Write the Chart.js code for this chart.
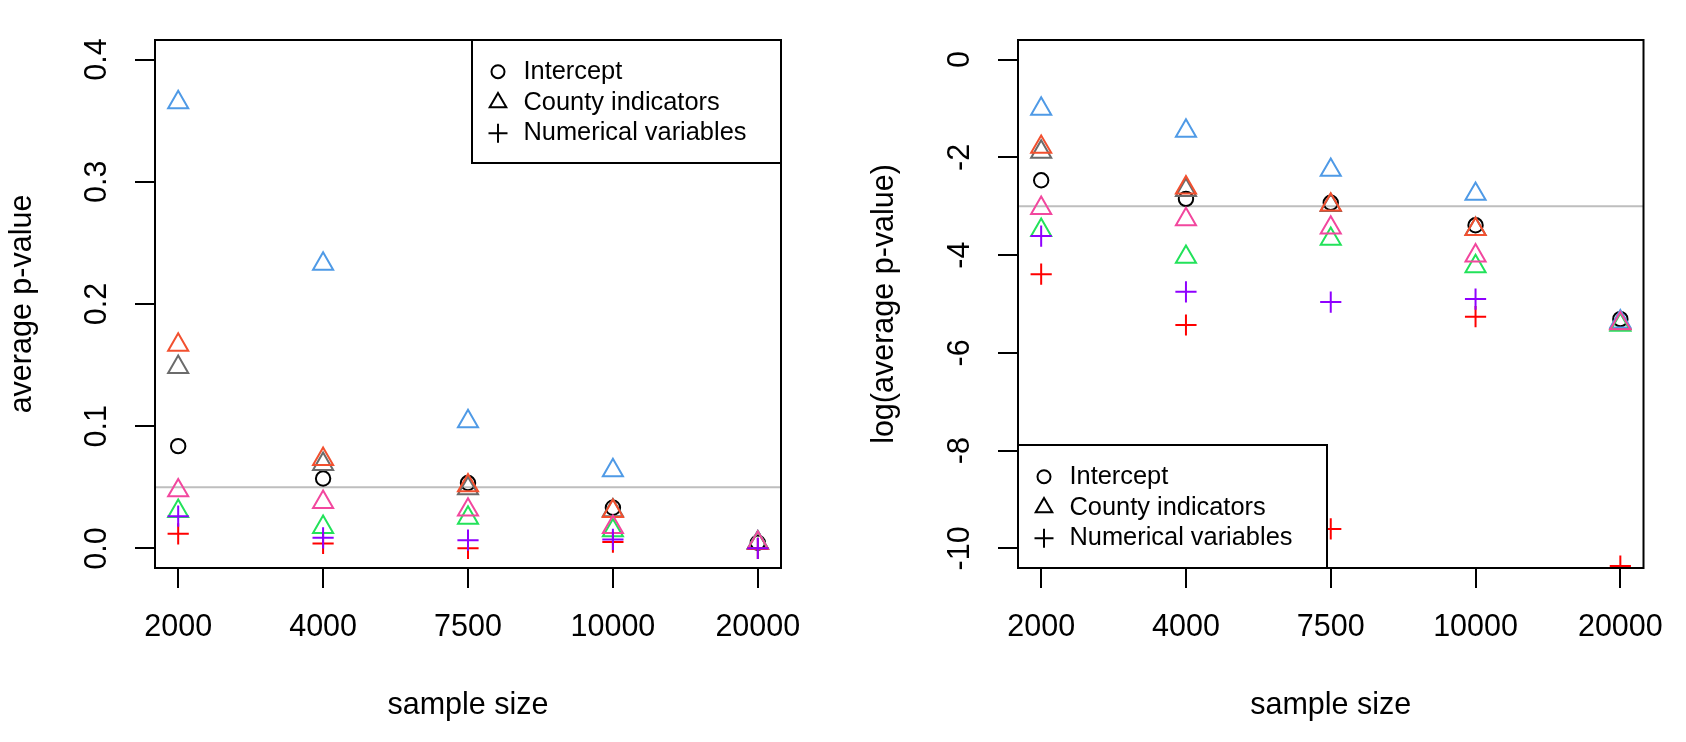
<!DOCTYPE html>
<html>
<head>
<meta charset="utf-8">
<title>average p-value by sample size</title>
<script src="https://cdn.jsdelivr.net/npm/chart.js@4.4.1/dist/chart.umd.min.js"></script>
<style>
  html, body { margin: 0; padding: 0; background: #fff; }
  #wrap { position: relative; width: 1686px; height: 742px; }
  canvas { position: absolute; top: 0; }
  #leftChart { left: 0; }
  #rightChart { left: 843px; }
</style>
</head>
<body>
<div id="wrap">
  <canvas id="leftChart" width="843" height="742"></canvas>
  <canvas id="rightChart" width="843" height="742"></canvas>
</div>
<script>
// x axis categories (drawn at positions 1..5)
const sampleSizes = ['2000', '4000', '7500', '10000', '20000'];

// left panel: average p-value
const interceptAvg  = [0.0837, 0.0572, 0.0535, 0.0333, 0.0047];
const countyGrayAvg  = [0.1483, 0.0690, 0.0490, 0.0310, 0.0045];
const countyRedAvg   = [0.1665, 0.0730, 0.0515, 0.0305, 0.0046];
const countyBlueAvg  = [0.3650, 0.2328, 0.1040, 0.0638, 0.0047];
const countyGreenAvg = [0.0305, 0.0174, 0.0250, 0.0147, 0.0044];
const countyPinkAvg  = [0.0474, 0.0379, 0.0316, 0.0174, 0.0045];
const numPurpleAvg   = [0.0264, 0.0087, 0.0068, 0.0074, 0.0001];
const numRedAvg      = [0.0120, 0.0041, 0.0001, 0.0052, 0.0000];

// right panel: log(average p-value)
const interceptLog   = [-2.47, -2.85, -2.93, -3.39, -5.31];
const countyGrayLog  = [-1.89, -2.67, -2.98, -3.47, -5.40];
const countyRedLog   = [-1.79, -2.62, -2.97, -3.47, -5.38];
const countyBlueLog  = [-1.01, -1.46, -2.26, -2.75, -5.36];
const countyGreenLog = [-3.49, -4.04, -3.67, -4.23, -5.43];
const countyPinkLog  = [-3.04, -3.27, -3.44, -4.01, -5.40];
const numPurpleLog   = [-3.61, -4.75, -4.96, -4.90, -11.2];
const numRedLog      = [-4.39, -5.43, -9.60, -5.26, -10.36];

const leftTicks = [0, 0.1, 0.2, 0.3, 0.4];
const leftTickLabels = ['0.0', '0.1', '0.2', '0.3', '0.4'];
const rightTicks = [0, -2, -4, -6, -8, -10];
const rightTickLabels = ['0', '-2', '-4', '-6', '-8', '-10'];
const legendLabels = ['Intercept', 'County indicators', 'Numerical variables'];
const refLineLeft = 0.05;
const refLineRight = -3;

const FONT = '"Liberation Sans", Arial, Helvetica, sans-serif';
const axisFont = { family: FONT, size: 30.5 };

// bottom-most first
const styles = [
  { shape: 'circle',   color: '#000000', r: 7.2 },
  { shape: 'triangle', color: '#6b6b6b', r: 11.6 },
  { shape: 'triangle', color: '#f2502f', r: 11.6 },
  { shape: 'triangle', color: '#4f9ae6', r: 11.6 },
  { shape: 'triangle', color: '#22e25a', r: 11.6 },
  { shape: 'triangle', color: '#f2479e', r: 11.6 },
  { shape: 'cross',    color: '#ff0000', r: 10.6 },
  { shape: 'cross',    color: '#8f00ff', r: 10.6 }
];

function makeDatasets(series) {
  return series.map((vals, i) => ({
    data: vals.map((v, j) => ({ x: j + 1, y: v })),
    pointStyle: styles[i].shape,
    pointRadius: styles[i].r,
    pointBorderWidth: 2,
    borderColor: styles[i].color,
    pointBorderColor: styles[i].color,
    pointBackgroundColor: 'rgba(0,0,0,0)',
    backgroundColor: 'rgba(0,0,0,0)',
    showLine: false,
    clip: 0,
    order: series.length - i
  }));
}

function refLine(value) {
  return {
    id: 'refLine',
    beforeDatasetsDraw(chart) {
      const ctx = chart.ctx, ca = chart.chartArea;
      const y = chart.scales.y.getPixelForValue(value);
      ctx.save();
      ctx.strokeStyle = '#bebebe';
      ctx.lineWidth = 2;
      ctx.beginPath();
      ctx.moveTo(ca.left, y);
      ctx.lineTo(ca.right, y);
      ctx.stroke();
      ctx.restore();
    }
  };
}

function boxLegend(corner) {
  return {
    id: 'boxLegend',
    afterDatasetsDraw(chart) {
      const ctx = chart.ctx, ca = chart.chartArea;
      const w = 309, h = 123;
      const x0 = corner === 'topright' ? ca.right - w : ca.left;
      const y0 = corner === 'topright' ? ca.top : ca.bottom - h;
      ctx.save();
      ctx.fillStyle = '#fff';
      ctx.fillRect(x0, y0, w, h);
      ctx.strokeStyle = '#000';
      ctx.lineWidth = 2;
      ctx.strokeRect(x0, y0, w, h);
      const shapes = ['circle', 'triangle', 'cross'];
      const radii = [6.5, 9.6, 9.5];
      ctx.font = '25.4px ' + FONT;
      ctx.textBaseline = 'middle';
      legendLabels.forEach((txt, i) => {
        const y = y0 + 31.7 + i * 30.8;
        ctx.fillStyle = 'rgba(0,0,0,0)';
        ctx.strokeStyle = '#000';
        ctx.lineWidth = 2;
        Chart.helpers.drawPoint(ctx, { pointStyle: shapes[i], radius: radii[i], borderWidth: 2, rotation: 0 }, x0 + 26, y);
        ctx.fillStyle = '#000';
        ctx.fillText(txt, x0 + 51.5, y);
      });
      ctx.restore();
    }
  };
}

const frame = {
  id: 'frame',
  afterDraw(chart) {
    const ctx = chart.ctx, ca = chart.chartArea;
    ctx.save();
    ctx.strokeStyle = '#000';
    ctx.lineWidth = 2;
    ctx.strokeRect(ca.left, ca.top, ca.right - ca.left, ca.bottom - ca.top);
    ctx.restore();
  }
};

const tickGrid = { display: true, drawOnChartArea: false, drawTicks: true, tickLength: 20, color: '#000', lineWidth: 2 };

function makeChart(id, series, yCfg, legendCorner, refValue) {
  return new Chart(document.getElementById(id).getContext('2d'), {
    type: 'scatter',
    data: { datasets: makeDatasets(series) },
    options: {
      responsive: false,
      devicePixelRatio: 1,
      animation: false,
      layout: { padding: { left: 0, top: 40, right: yCfg.padRight, bottom: 0 } },
      plugins: { legend: { display: false }, tooltip: { enabled: false } },
      scales: {
        x: {
          type: 'linear',
          min: 0.84,
          max: 5.16,
          afterBuildTicks: s => { s.ticks = sampleSizes.map((_, i) => ({ value: i + 1 })); },
          afterFit: s => { s.height = 174; },
          ticks: { callback: (v, i) => sampleSizes[i], color: '#000', font: axisFont, padding: 21.7, minRotation: 0, maxRotation: 0, autoSkip: false },
          grid: tickGrid,
          border: { display: false },
          title: { display: true, text: 'sample size', color: '#000', font: axisFont, padding: { top: 0, bottom: 17.7 } }
        },
        y: {
          type: 'linear',
          min: yCfg.min,
          max: yCfg.max,
          afterBuildTicks: s => { s.ticks = yCfg.ticks.map(v => ({ value: v })); },
          afterFit: s => { s.width = yCfg.width; },
          ticks: { callback: (v, i) => yCfg.labels[i], color: '#000', font: axisFont, padding: yCfg.tickPad, minRotation: 90, maxRotation: 90, crossAlign: 'center', autoSkip: false },
          grid: tickGrid,
          border: { display: false },
          title: { display: true, text: yCfg.title, color: '#000', font: axisFont, padding: { top: yCfg.titlePad, bottom: 0 } }
        }
      }
    },
    plugins: [refLine(refValue), boxLegend(legendCorner), frame]
  });
}

makeChart('leftChart',
  [interceptAvg, countyGrayAvg, countyRedAvg, countyBlueAvg, countyGreenAvg, countyPinkAvg, numRedAvg, numPurpleAvg],
  { min: -0.016, max: 0.416, ticks: leftTicks, labels: leftTickLabels, width: 155, padRight: 62, tickPad: 16.3, titlePad: 4.4, title: 'average p-value' },
  'topright', refLineLeft);

makeChart('rightChart',
  [interceptLog, countyGrayLog, countyRedLog, countyBlueLog, countyGreenLog, countyPinkLog, numRedLog, numPurpleLog],
  { min: -10.4, max: 0.4, ticks: rightTicks, labels: rightTickLabels, width: 175, padRight: 42, tickPad: 15.2, titlePad: 23.1, title: 'log(average p-value)' },
  'bottomleft', refLineRight);
</script>
</body>
</html>
